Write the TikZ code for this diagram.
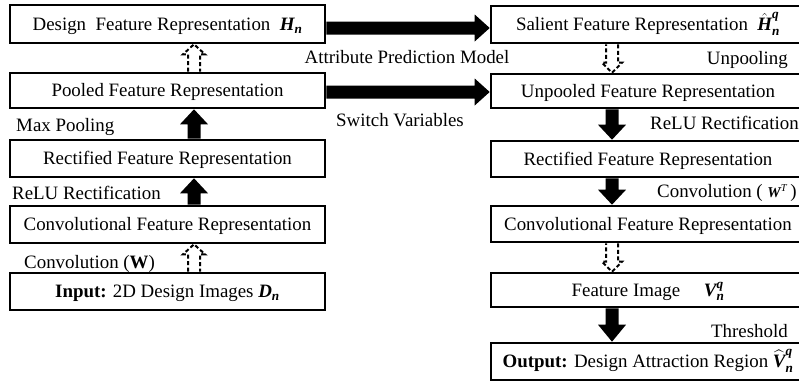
\RequirePackage{fix-cm}
\documentclass[tikz,border=0pt]{standalone}
\usepackage{amsmath}
\usepackage{fontspec}
\setmainfont{Liberation Serif}
\usetikzlibrary{calc}
\newcommand\mb[1]{\text{\bfseries\itshape #1}}
\newcommand\barr[6]{% #1 style, #2 from, #3 to, #4 shaft half width, #5 head half width, #6 head length
  \coordinate (bn) at ($(#3)!#6!(#2)$);
  \path[#1] ($(#2)!#4!90:(#3)$) -- ($(bn)!#4!90:(#3)$) -- ($(bn)!#5!90:(#3)$) -- (#3)
    -- ($(bn)!#5!-90:(#3)$) -- ($(bn)!#4!-90:(#3)$) -- ($(#2)!#4!-90:(#3)$);}
\begin{document}
\begin{tikzpicture}[x=1pt,y=-1pt,
  box/.style={draw, line width=2.6pt, rectangle, inner sep=0pt, text height=12.5pt, text depth=0pt,
    font=\fontsize{18.9}{22}\selectfont},
  lbox/.style={box, minimum width=315pt},
  rbox/.style={box, minimum width=314pt},
  lab/.style={inner sep=0pt, font=\fontsize{18.9}{22}\selectfont},
  dasharr/.style={draw, line width=2pt, dash pattern=on 4pt off 2.5pt, fill=white},
  solarr/.style={fill=black}]
\useasboundingbox (0,0) rectangle (799,381);
\clip (0,0) rectangle (799,381);
% left column
\node[lbox, minimum height=38pt] (b1) at (167.5,24) {Design\ \ Feature Representation\ \ $\mb{H}_{\mb{n}}$};
\node[lbox, minimum height=35pt] (b2) at (167.5,90.5) {Pooled Feature Representation};
\node[lbox, minimum height=37pt] (b3) at (167.5,158.5) {Rectified Feature Representation};
\node[lbox, minimum height=37pt] (b4) at (167.5,224.5) {Convolutional Feature Representation};
\node[lbox, minimum height=37pt] (b5) at (167.5,291.5) {\textbf{Input:} 2D Design Images $\mb{D}_{\mb{n}}$\hspace{31pt}};
% right column
\node[rbox, minimum height=37pt] (r1) at (648,24.5) {Salient Feature Representation\ \ $\hat{\mb{H}}^{\mb{q}}_{\mb{n}}$};
\node[rbox, minimum height=34pt] (r2) at (648,91) {Unpooled Feature Representation};
\node[rbox, minimum height=36pt] (r3) at (648,159) {Rectified Feature Representation};
\node[rbox, minimum height=36pt] (r4) at (648,224) {Convolutional Feature Representation};
\node[rbox, minimum height=34pt] (r5) at (648,290) {Feature Image\quad\ $\mb{V}^{\mb{q}}_{\mb{n}}$};
\node[rbox, minimum height=37pt] (r6) at (648,361.5) {\textbf{Output:} Design Attraction Region $\widehat{\mb{V}}^{\mb{q}}_{\mb{n}}$};
% labels
\node[lab, anchor=base west] (l1) at (16,131) {Max Pooling};
\node[lab, anchor=base west] (l2) at (12,199) {ReLU Rectification};
\node[lab, anchor=base west] (l3) at (24,268) {Convolution (\textbf{W})};
\node[lab, anchor=base] (l4) at (407,63) {Attribute Prediction Model};
\node[lab, anchor=base] (l5) at (400,126) {Switch Variables};
\node[lab, anchor=base east] (l6) at (788,64) {Unpooling};
\node[lab, anchor=base west] (l7) at (650,129) {ReLU Rectification};
\node[lab, anchor=base west] (l8) at (657,197) {Convolution ( {\fontsize{15}{16}\selectfont$\mb{W}^{\text{\itshape T}}$}\,)};
\node[lab, anchor=base east] (l9) at (788,337) {Threshold};
% horizontal arrows
\coordinate (h1s) at ($(b1.east)+(0,4)$);
\coordinate (h1e) at ($(r1.west)+(0,3.5)$);
\coordinate (h2s) at ($(b2.east)+(0,1.5)$);
\coordinate (h2e) at ($(r2.west)+(0,1)$);
\barr{solarr}{h1s}{h1e}{6.5pt}{13.5pt}{15pt}
\barr{solarr}{h2s}{h2e}{6.5pt}{13.5pt}{15pt}
% left vertical arrows
\coordinate (v1s) at ($(b2.north)+(26.5,0)$);
\coordinate (v1e) at ($(b1.south)+(26.5,0)$);
\coordinate (v2s) at ($(b3.north)+(26.5,0)$);
\coordinate (v2e) at ($(b2.south)+(26.5,0)$);
\coordinate (v3s) at ($(b4.north)+(26.5,0)$);
\coordinate (v3e) at ($(b3.south)+(26.5,0)$);
\coordinate (v4s) at ($(b5.north)+(26.5,0)$);
\coordinate (v4e) at ($(b4.south)+(26.5,0)$);
\barr{dasharr}{v1s}{v1e}{6pt}{11pt}{10pt}
\barr{solarr}{v2s}{v2e}{6.5pt}{14pt}{15pt}
\barr{solarr}{v3s}{v3e}{6.5pt}{14pt}{15pt}
\barr{dasharr}{v4s}{v4e}{6pt}{11pt}{10pt}
% right vertical arrows
\coordinate (w1s) at ($(r1.south)+(-36,0)$);
\coordinate (w1e) at ($(r2.north)+(-36,0)$);
\coordinate (w2s) at ($(r2.south)+(-36,0)$);
\coordinate (w2e) at ($(r3.north)+(-36,0)$);
\coordinate (w3s) at ($(r3.south)+(-36,0)$);
\coordinate (w3e) at ($(r4.north)+(-36,0)$);
\coordinate (w4s) at ($(r4.south)+(-36,0)$);
\coordinate (w4e) at ($(r5.north)+(-36,0)$);
\coordinate (w5s) at ($(r5.south)+(-36,0)$);
\coordinate (w5e) at ($(r6.north)+(-36,0)$);
\barr{dasharr}{w1s}{w1e}{6pt}{10pt}{10pt}
\barr{solarr}{w2s}{w2e}{6.5pt}{14pt}{15pt}
\barr{solarr}{w3s}{w3e}{6.5pt}{14pt}{15pt}
\barr{dasharr}{w4s}{w4e}{6pt}{10pt}{10pt}
\barr{solarr}{w5s}{w5e}{6.5pt}{14pt}{17pt}
\end{tikzpicture}
\end{document}
